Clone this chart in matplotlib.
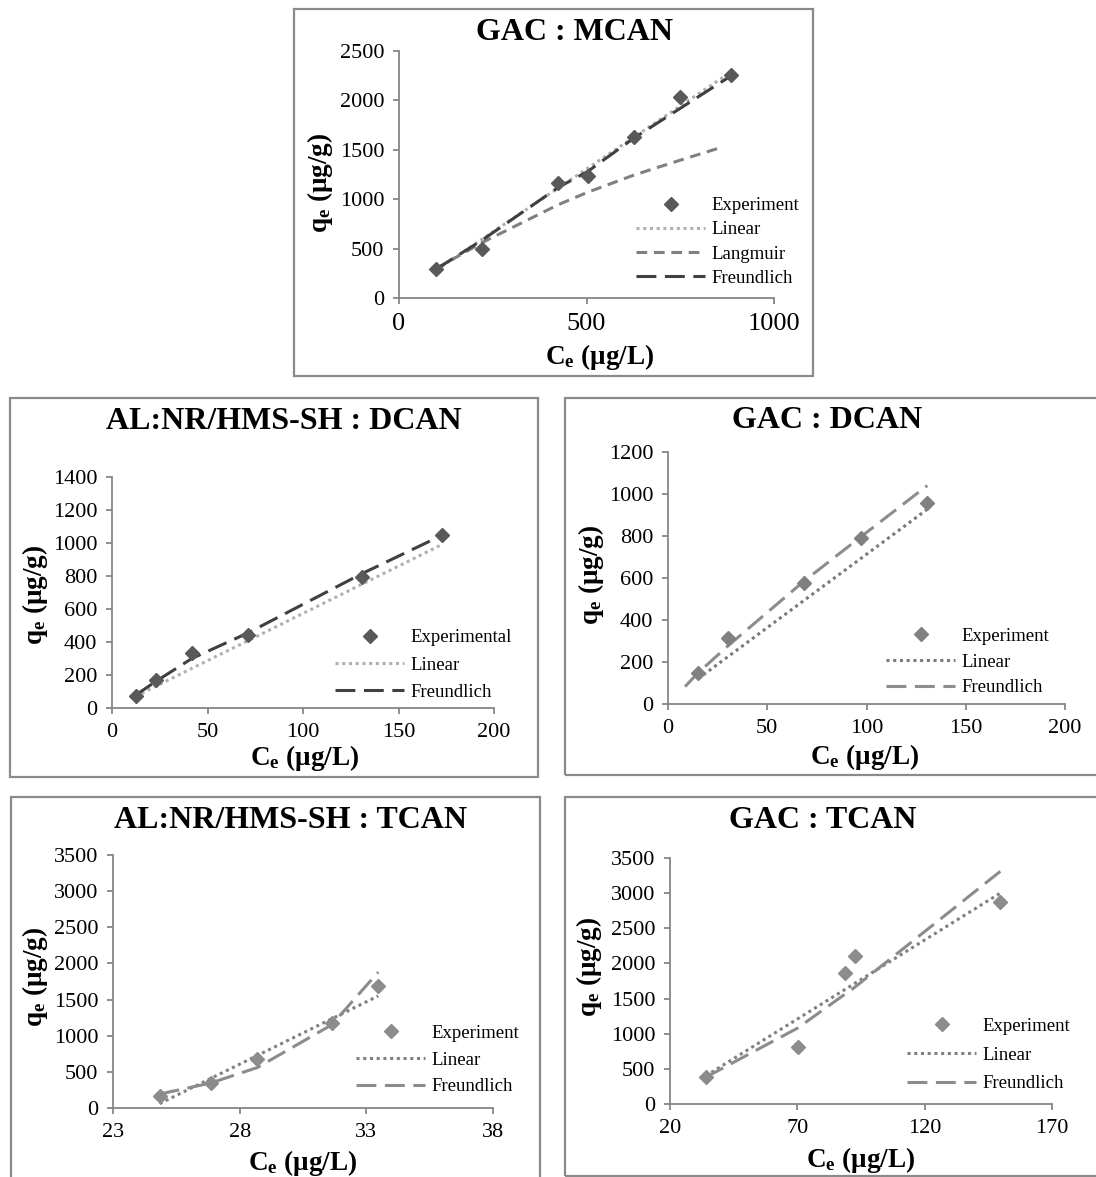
import matplotlib
matplotlib.use('Agg')
import matplotlib.pyplot as plt
from matplotlib.patches import Rectangle

plt.rcParams['font.family'] = 'Liberation Serif'
plt.rcParams['mathtext.fontset'] = 'custom'
plt.rcParams['mathtext.rm'] = 'Liberation Serif'
plt.rcParams['mathtext.bf'] = 'Liberation Serif:bold'
plt.rcParams['mathtext.it'] = 'Liberation Serif:italic'

# ---- data ----
# GAC : MCAN
mcan_ce = [98, 221, 425, 503, 627, 750, 886]
mcan_qe = [297, 500, 1166, 1233, 1632, 2037, 2257]
mcan_linear = [280, 594, 1114, 1313, 1629, 1943, 2290]
mcan_lang_ce = [98, 221, 425, 503, 627, 750, 860]
mcan_langmuir = [295, 560, 945, 1070, 1245, 1395, 1525]
mcan_freund = [290, 584, 1120, 1280, 1620, 1920, 2250]

# AL:NR/HMS-SH : DCAN
al_dcan_ce = [12.4, 22.8, 41.8, 71.2, 131, 173]
al_dcan_qe = [74, 169, 331, 442, 791, 1048]
al_dcan_linear = [71, 131, 240, 408, 751, 992]
al_dcan_freund = [78, 160, 300, 455, 815, 1048]

# GAC : DCAN
gac_dcan_ce = [15.1, 30.0, 68.5, 97.3, 130.3]
gac_dcan_qe = [149, 315, 574, 789, 957]
gac_dcan_linear = [120, 224, 493, 694, 925]
gac_dcan_fr_ce = [8.6, 15.1, 30.0, 68.5, 97.3, 130.6]
gac_dcan_freund = [83, 148, 275, 585, 797, 1040]

# AL:NR/HMS-SH : TCAN
al_tcan_ce = [24.84, 26.85, 28.70, 31.63, 33.47]
al_tcan_qe = [170, 345, 684, 1171, 1686]
al_tcan_linear = [60, 407, 727, 1233, 1550]
al_tcan_freund = [193, 345, 560, 1150, 1880]

# GAC : TCAN
gac_tcan_ce = [34.0, 70.1, 88.6, 92.5, 149.7]
gac_tcan_qe = [389, 807, 1861, 2099, 2873]
gac_tcan_linear = [399, 1211, 1627, 1715, 3001]
gac_tcan_freund = [380, 1080, 1560, 1660, 3310]

W, H = 1096, 1177
fig = plt.figure(figsize=(W / 100, H / 100), dpi=100)
fig.patch.set_facecolor('white')

AXIS_C = '#868686'


def px(x, y):
    return x / W, 1 - y / H


def box(x0, y0, x1, y1):
    fig.add_artist(Rectangle((x0 / W, 1 - y1 / H), (x1 - x0) / W, (y1 - y0) / H,
                             transform=fig.transFigure, fill=False,
                             ec='#8a8a8a', lw=1.6))


def panel(x0, x1, ybot, ytop, xlim, ylim, xticks, yticks, xsize=16):
    ax = fig.add_axes([x0 / W, 1 - ybot / H, (x1 - x0) / W, (ybot - ytop) / H])
    ax.set_xlim(*xlim)
    ax.set_ylim(*ylim)
    ax.set_xticks(xticks)
    ax.set_yticks(yticks)
    for s in ['top', 'right']:
        ax.spines[s].set_visible(False)
    for s in ['left', 'bottom']:
        ax.spines[s].set_color(AXIS_C)
        ax.spines[s].set_linewidth(1.3)
    ax.tick_params(axis='both', direction='out', length=4.5, width=1.3, color=AXIS_C)
    ax.tick_params(axis='y', labelsize=16, pad=6)
    ax.tick_params(axis='x', labelsize=xsize, pad=6)
    ax.patch.set_alpha(0)
    return ax


def labels(title, tx, ty, ylx, yly, xlx, xly):
    fig.text(*px(tx, ty), title, ha='center', va='center', fontsize=23, fontweight='bold')
    fig.text(*px(ylx, yly), r'$\mathbf{q_e}$ (μg/g)', ha='center', va='center',
             rotation=90, fontsize=19.5, fontweight='bold')
    fig.text(*px(xlx, xly), r'$\mathbf{C_e}$ (μg/L)', ha='center', va='center',
             fontsize=19.5, fontweight='bold')


def legend(ax, handles, names, lx, ly, spacing=0.5):
    ax.legend(handles, names, loc='center left', bbox_to_anchor=px(lx, ly),
              bbox_transform=fig.transFigure, frameon=False, fontsize=13.5,
              handlelength=3.7, handletextpad=0.3, labelspacing=spacing,
              borderpad=0, borderaxespad=0)


dot = (0, (1, 1.2))
dash = (0, (3.5, 2.2))
longdash = (0, (6.5, 2.8))

# ---------- top: GAC : MCAN ----------
box(294, 9, 813, 376)
ax = panel(399, 774, 298, 51, (0, 1000), (0, 2500), [0, 500, 1000],
           [0, 500, 1000, 1500, 2000, 2500], xsize=19)
h1, = ax.plot(mcan_ce, mcan_qe, 'D', color='#595959', ms=7, zorder=5, ls='none')
h2, = ax.plot(mcan_ce, mcan_linear, color='#b0b0b0', lw=2.2, ls=dot)
h3, = ax.plot(mcan_lang_ce, mcan_langmuir, color='#808080', lw=2.2, ls=dash)
h4, = ax.plot(mcan_ce, mcan_freund, color='#404040', lw=2.2, ls=longdash)
labels('GAC : MCAN', 575, 32, 320, 183, 600, 357)
legend(ax, [h1, h2, h3, h4], ['Experiment', 'Linear', 'Langmuir', 'Freundlich'],
       636, 242, spacing=0.38)

# ---------- middle left: AL:NR/HMS-SH : DCAN ----------
box(10, 398, 538, 777)
ax = panel(112, 494, 708, 477, (0, 200), (0, 1400), [0, 50, 100, 150, 200],
           list(range(0, 1401, 200)))
h1, = ax.plot(al_dcan_ce, al_dcan_qe, 'D', color='#595959', ms=7, zorder=5, ls='none')
h2, = ax.plot(al_dcan_ce, al_dcan_linear, color='#b0b0b0', lw=2.2, ls=dot)
h4, = ax.plot(al_dcan_ce, al_dcan_freund, color='#404040', lw=2.2, ls=longdash)
labels('AL:NR/HMS-SH : DCAN', 284, 422, 35, 595, 305, 758)
legend(ax, [h1, h2, h4], ['Experimental', 'Linear', 'Freundlich'], 335, 665,
       spacing=0.55)

# ---------- middle right: GAC : DCAN ----------
box(565, 398, 1100, 775)
ax = panel(668, 1065, 704, 452, (0, 200), (0, 1200), [0, 50, 100, 150, 200],
           list(range(0, 1201, 200)))
h1, = ax.plot(gac_dcan_ce, gac_dcan_qe, 'D', color='#808080', ms=7, zorder=5, ls='none')
h2, = ax.plot(gac_dcan_ce, gac_dcan_linear, color='#7a7a7a', lw=2.2, ls=dot)
h4, = ax.plot(gac_dcan_fr_ce, gac_dcan_freund, color='#8c8c8c', lw=2.2, ls=longdash)
labels('GAC : DCAN', 827, 421, 591, 575, 865, 757)
legend(ax, [h1, h2, h4], ['Experiment', 'Linear', 'Freundlich'], 886, 662,
       spacing=0.46)

# ---------- bottom left: AL:NR/HMS-SH : TCAN ----------
box(11, 797, 540, 1182)
ax = panel(113, 493, 1108, 855, (23, 38), (0, 3500), [23, 28, 33, 38],
           list(range(0, 3501, 500)))
h1, = ax.plot(al_tcan_ce, al_tcan_qe, 'D', color='#8c8c8c', ms=7, zorder=5, ls='none')
h2, = ax.plot(al_tcan_ce, al_tcan_linear, color='#808080', lw=2.2, ls=dot)
h4, = ax.plot(al_tcan_ce, al_tcan_freund, color='#8c8c8c', lw=2.2, ls=longdash)
labels('AL:NR/HMS-SH : TCAN', 290, 820, 35, 977, 303, 1163)
legend(ax, [h1, h2, h4], ['Experiment', 'Linear', 'Freundlich'], 356, 1060,
       spacing=0.52)

# ---------- bottom right: GAC : TCAN ----------
box(565, 797, 1100, 1176)
ax = panel(670, 1052, 1104, 858, (20, 170), (0, 3500), [20, 70, 120, 170],
           list(range(0, 3501, 500)))
h1, = ax.plot(gac_tcan_ce, gac_tcan_qe, 'D', color='#8c8c8c', ms=7, zorder=5, ls='none')
h2, = ax.plot(gac_tcan_ce, gac_tcan_linear, color='#808080', lw=2.2, ls=dot)
h4, = ax.plot(gac_tcan_ce, gac_tcan_freund, color='#8c8c8c', lw=2.2, ls=longdash)
labels('GAC : TCAN', 823, 820, 589, 967, 861, 1160)
legend(ax, [h1, h2, h4], ['Experiment', 'Linear', 'Freundlich'], 907, 1055,
       spacing=0.62)

fig.savefig('out.png', dpi=100, facecolor='white')
